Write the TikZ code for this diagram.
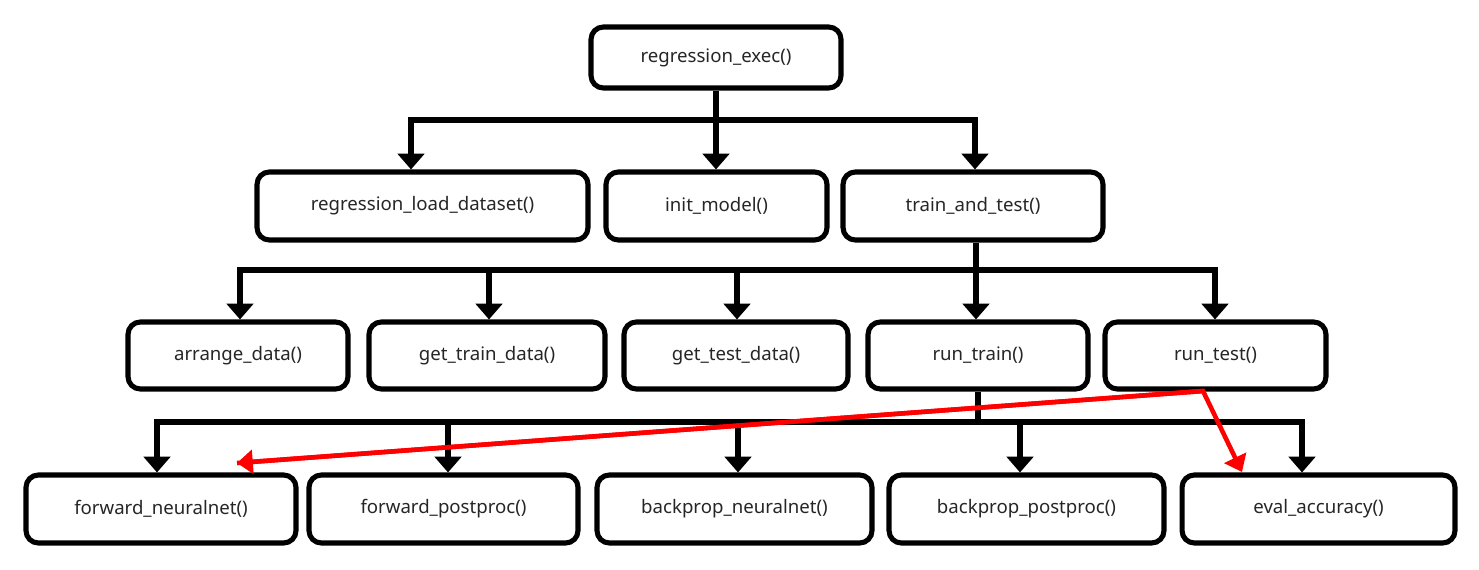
\documentclass[tikz,border=0pt]{standalone}
\usepackage{fontspec}
\setmainfont{Noto Sans}
\usetikzlibrary{arrows.meta}
\tikzset{
  fbox/.style={draw=black, line width=2.9pt, rounded corners=7pt, fill=white, font=\fontsize{10.6}{12}\selectfont, text=black!85, inner sep=0pt},
  conn/.style={draw=black, line width=2.9pt},
  arr/.style={conn, line join=miter, -{Triangle[length=9pt,width=15pt]}},
  redarr/.style={draw=red, line width=2.6pt, -{Triangle[length=9pt,width=13.5pt]}},
}
\begin{document}
\begin{tikzpicture}[x=0.02cm,y=-0.02cm]
\useasboundingbox (0,0) rectangle (1479,569);
% row 1
\node[fbox, minimum width=5.0cm, minimum height=1.22cm] (re) at (716,57.5) {regression\_exec()};
% row 2
\node[fbox, minimum width=6.62cm, minimum height=1.36cm] (ld) at (422.5,206) {regression\_load\_dataset()};
\node[fbox, minimum width=4.42cm, minimum height=1.36cm] (im) at (716.5,206) {init\_model()};
\node[fbox, minimum width=5.2cm, minimum height=1.36cm] (tt) at (973,206) {train\_and\_test()};
% row 3
\node[fbox, minimum width=4.4cm, minimum height=1.34cm] (ad) at (238,355.5) {arrange\_data()};
\node[fbox, minimum width=4.72cm, minimum height=1.34cm] (gtr) at (487,355.5) {get\_train\_data()};
\node[fbox, minimum width=4.48cm, minimum height=1.34cm] (gte) at (736,355.5) {get\_test\_data()};
\node[fbox, minimum width=4.4cm, minimum height=1.34cm] (rt) at (978,355.5) {run\_train()};
\node[fbox, minimum width=4.42cm, minimum height=1.34cm] (rs) at (1215.5,355.5) {run\_test()};
% row 4
\node[fbox, minimum width=5.4cm, minimum height=1.36cm] (fn) at (161,509) {forward\_neuralnet()};
\node[fbox, minimum width=5.38cm, minimum height=1.36cm] (fp) at (443.5,509) {forward\_postproc()};
\node[fbox, minimum width=5.5cm, minimum height=1.36cm] (bn) at (734.5,509) {backprop\_neuralnet()};
\node[fbox, minimum width=5.5cm, minimum height=1.36cm] (bp) at (1026.5,509) {backprop\_postproc()};
\node[fbox, minimum width=5.46cm, minimum height=1.36cm] (ea) at (1318.5,509) {eval\_accuracy()};

% level 1 connectors
\coordinate (j1) at (716,120);
\coordinate (l1) at (411,120);
\coordinate (r1) at (975,120);
\draw[conn] (re.south) -- (j1);
\draw[arr] (j1) -- (l1) -- (l1 |- ld.north);
\draw[arr] (j1) -- (r1) -- (r1 |- tt.north);
\draw[arr] (j1) -- (j1 |- im.north);

% level 2 connectors
\coordinate (j2) at (976,270);
\coordinate (l2) at (240,270);
\coordinate (m2a) at (489,270);
\coordinate (m2b) at (737,270);
\coordinate (r2) at (1215,270);
\draw[conn] (tt.south -| j2) -- (j2);
\draw[arr] (j2) -- (l2) -- (l2 |- ad.north);
\draw[arr] (j2) -- (r2) -- (r2 |- rs.north);
\draw[arr] (m2a) -- (m2a |- gtr.north);
\draw[arr] (m2b) -- (m2b |- gte.north);
\draw[arr] (j2) -- (j2 |- rt.north);

% level 3 connectors
\coordinate (j3) at (978,422);
\coordinate (l3) at (157,422);
\coordinate (m3a) at (448,422);
\coordinate (m3b) at (738,422);
\coordinate (m3c) at (1020,422);
\coordinate (r3) at (1302,422);
\draw[conn] (rt.south) -- (j3);
\draw[arr] (j3) -- (l3) -- (l3 |- fn.north);
\draw[arr] (j3) -- (r3) -- (r3 |- ea.north);
\draw[arr] (m3a) -- (m3a |- fp.north);
\draw[arr] (m3b) -- (m3b |- bn.north);
\draw[arr] (m3c) -- (m3c |- bp.north);

% red arrows
\coordinate (rv) at (1203,391);
\coordinate (rfn) at (237,463);
\coordinate (rea) at (1242,472);
\draw[redarr, line join=miter] (rfn) -- (rv) -- (rea);
\draw[redarr] (rv) -- (rfn);
\end{tikzpicture}
\end{document}
